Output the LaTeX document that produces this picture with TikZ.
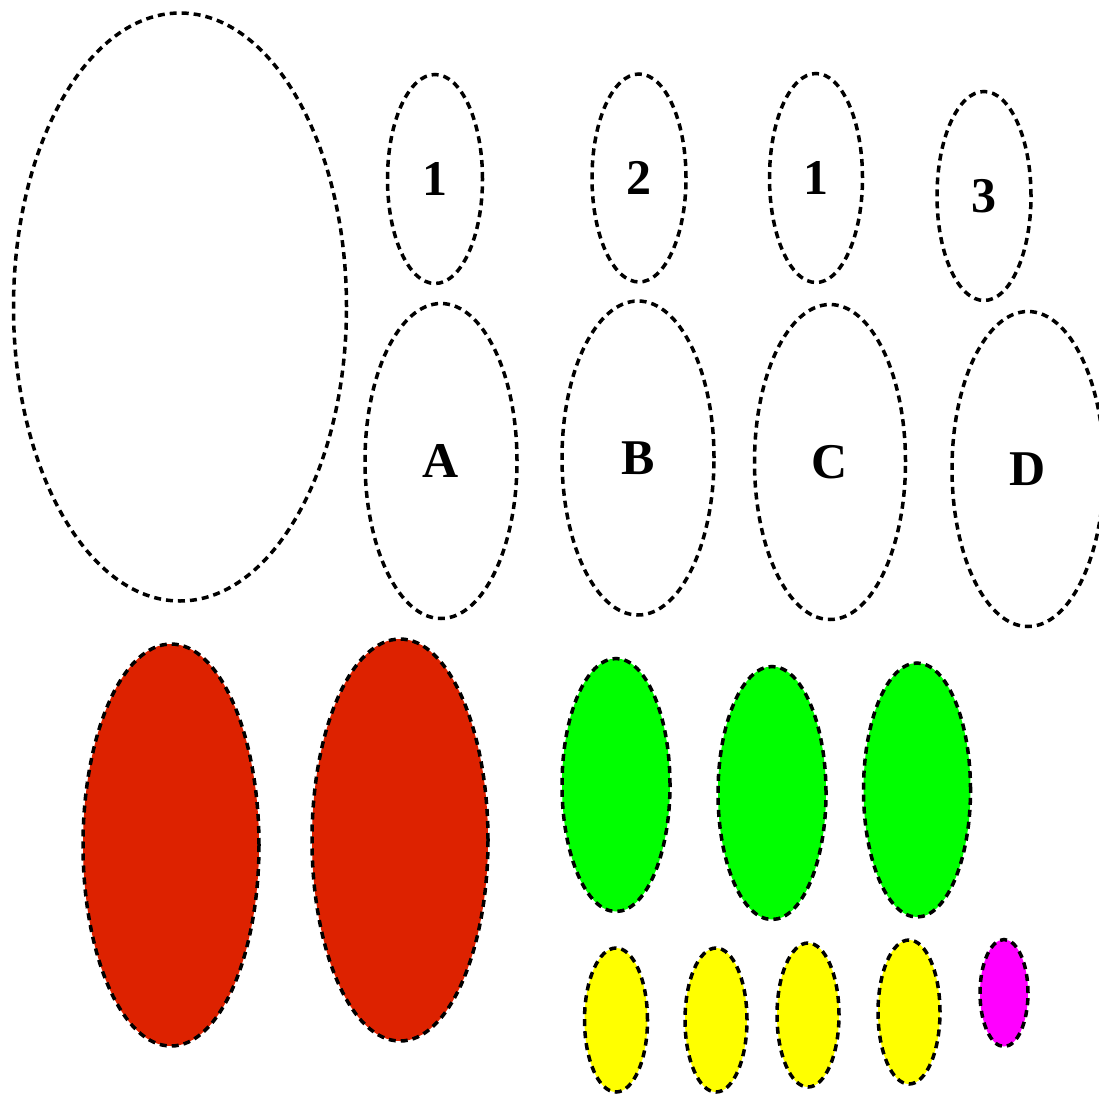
\documentclass[tikz,border=0pt]{standalone}
\usepackage{fontspec}
\setmainfont{Liberation Serif}
\usetikzlibrary{shapes.geometric}
\definecolor{cred}{HTML}{DD2200}
\definecolor{cgreen}{HTML}{00FF00}
\definecolor{cyellow}{HTML}{FFFF00}
\definecolor{cmag}{HTML}{FF00FF}
\begin{document}
\begin{tikzpicture}[x=1pt,y=-1pt,
  ell/.style={ellipse, draw=black, line width=3.5pt, dash pattern=on 7pt off 5pt,
    inner sep=0pt, font=\fontsize{50}{54}\selectfont\bfseries},
  e/.style 2 args={ell, minimum width=#1pt, minimum height=#2pt}]
\useasboundingbox (0,0) rectangle (1099,1097);
\node[e={333}{588}] (big) at (180,307) {};
\node[e={95}{209}] (n1) at (435,179) {1};
\node[e={94}{208}] (n2) at (639,178) {2};
\node[e={93}{209}] (n3) at (816,178) {1};
\node[e={94}{209}] (n4) at (984,196) {3};
\node[e={152}{315}] (a) at (441,461) {A};
\node[e={152}{314}] (b) at (638,458) {B};
\node[e={151}{315}] (c) at (830,462) {C};
\node[e={152}{315}] (d) at (1028,469) {D};
\node[e={176}{402}, fill=cred] (r1) at (171,845) {};
\node[e={176}{402}, fill=cred] (r2) at (400,840) {};
\node[e={108}{253}, fill=cgreen] (g1) at (616,785) {};
\node[e={108}{253}, fill=cgreen] (g2) at (772,793) {};
\node[e={107}{254}, fill=cgreen] (g3) at (917,790) {};
\node[e={63}{144}, fill=cyellow] (y1) at (616,1020) {};
\node[e={62}{144}, fill=cyellow] (y2) at (716,1020) {};
\node[e={62}{144}, fill=cyellow] (y3) at (808,1015) {};
\node[e={62}{144}, fill=cyellow] (y4) at (909,1012) {};
\node[e={48}{107}, fill=cmag] (m1) at (1004,993) {};
\end{tikzpicture}
\end{document}
